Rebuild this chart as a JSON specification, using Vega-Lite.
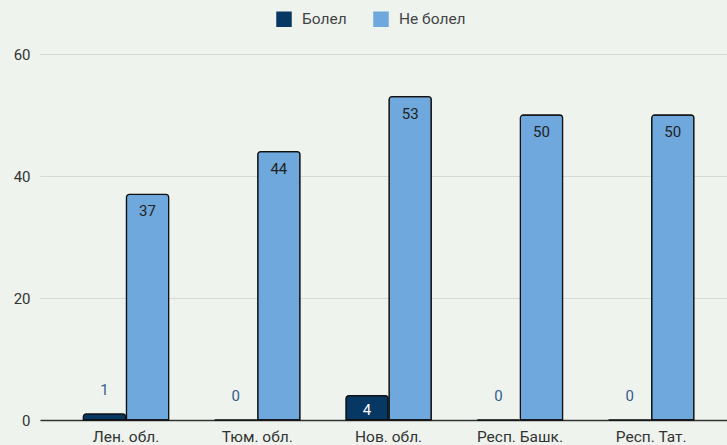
{
  "$schema": "https://vega.github.io/schema/vega-lite/v6.json",
  "autosize": "none",
  "width": 687,
  "height": 366,
  "padding": {"left": 40, "top": 54, "right": 0, "bottom": 25},
  "background": "#eef3ee",
  "config": {
    "view": {"stroke": null},
    "font": "Roboto",
    "text": {"font": "Roboto"}
  },
  "data": {
    "values": [
      {"region": "Лен. обл.", "series": "Болел", "v": 1},
      {"region": "Лен. обл.", "series": "Не болел", "v": 37},
      {"region": "Тюм. обл.", "series": "Болел", "v": 0},
      {"region": "Тюм. обл.", "series": "Не болел", "v": 44},
      {"region": "Нов. обл.", "series": "Болел", "v": 4},
      {"region": "Нов. обл.", "series": "Не болел", "v": 53},
      {"region": "Респ. Башк.", "series": "Болел", "v": 0},
      {"region": "Респ. Башк.", "series": "Не болел", "v": 50},
      {"region": "Респ. Тат.", "series": "Болел", "v": 0},
      {"region": "Респ. Тат.", "series": "Не болел", "v": 50}
    ]
  },
  "encoding": {
    "x": {
      "field": "region", "type": "nominal", "sort": null,
      "scale": {"paddingInner": 0.35, "paddingOuter": 0.291, "align": 0.567},
      "axis": {"title": null, "labelAngle": 0, "domain": false, "ticks": false, "labelFontSize": 15.5, "labelColor": "#333", "labelPadding": 9, "labelFont": "Roboto"}
    },
    "xOffset": {"field": "series", "type": "nominal", "sort": ["Болел", "Не болел"], "scale": {"paddingInner": 0.02}},
    "y": {
      "field": "v", "type": "quantitative",
      "scale": {"domain": [0, 60], "nice": false},
      "axis": {"title": null, "values": [0, 20, 40, 60], "domain": false, "ticks": false, "labelFontSize": 15, "labelColor": "#333", "labelPadding": 10, "labelFont": "Roboto",
        "gridColor": {"condition": {"test": "datum.value === 0", "value": "#333333"}, "value": "#d6d9d6"},
        "gridWidth": {"condition": {"test": "datum.value === 0", "value": 1.3}, "value": 1}}
    }
  },
  "layer": [
    {
      "mark": {"type": "bar", "stroke": "#111", "strokeWidth": 1.3, "cornerRadiusTopLeft": 3, "cornerRadiusTopRight": 3},
      "encoding": {
        "color": {
          "field": "series", "type": "nominal",
          "scale": {"domain": ["Болел", "Не болел"], "range": ["#073763", "#6fa8dc"]},
          "legend": {
            "title": null, "orient": "none", "direction": "horizontal",
            "legendX": 236, "legendY": -43,
            "symbolType": "square", "symbolSize": 240, "symbolStrokeWidth": 0,
            "labelFontSize": 15.5, "labelColor": "#444", "labelFont": "Roboto",
            "labelOffset": 10, "columnPadding": 26
          }
        }
      }
    },
    {
      "transform": [{"filter": "datum.series === 'Не болел'"}],
      "mark": {"type": "text", "baseline": "top", "dy": 10, "fontSize": 15, "color": "#222"},
      "encoding": {"text": {"field": "v", "type": "quantitative"}}
    },
    {
      "transform": [{"filter": "datum.series === 'Болел' && datum.v >= 3"}],
      "mark": {"type": "text", "baseline": "top", "dy": 7, "fontSize": 15, "color": "#ffffff"},
      "encoding": {"text": {"field": "v", "type": "quantitative"}}
    },
    {
      "transform": [{"filter": "datum.series === 'Болел' && datum.v < 3"}],
      "mark": {"type": "text", "baseline": "middle", "dy": -24, "fontSize": 15, "color": "#355c8c"},
      "encoding": {"text": {"field": "v", "type": "quantitative"}}
    }
  ]
}
